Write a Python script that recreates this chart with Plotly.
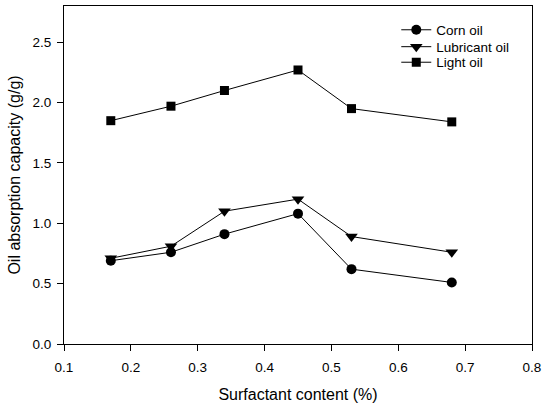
import plotly.graph_objects as go

surfactant = [0.17, 0.26, 0.34, 0.45, 0.53, 0.68]
corn_oil = [0.69, 0.76, 0.91, 1.08, 0.62, 0.51]
lubricant_oil = [0.71, 0.81, 1.10, 1.20, 0.89, 0.76]
light_oil = [1.85, 1.97, 2.10, 2.27, 1.95, 1.84]

# name, values, marker symbol, marker size, legend id, legend row position
series = [
    ("Corn oil", corn_oil, "circle", 10, "legend", 0.929),
    ("Lubricant oil", lubricant_oil, "triangle-down", 11, "legend2", 0.879),
    ("Light oil", light_oil, "square", 9, "legend3", 0.833),
]

fig = go.Figure()
legend_layout = {}
for name, vals, sym, size, leg, ypos in series:
    fig.add_trace(go.Scatter(
        x=surfactant, y=vals, name=name, mode="lines+markers",
        line=dict(color="black", width=1),
        marker=dict(symbol=sym, size=size, color="black"),
        legend=leg,
    ))
    legend_layout[leg] = dict(
        x=0.71, y=ypos, xanchor="left", yanchor="middle",
        bgcolor="rgba(0,0,0,0)", font=dict(size=13.5, color="black"),
        itemwidth=30,
    )

axis_common = dict(
    showline=True, linecolor="black", linewidth=1, mirror=True,
    ticks="outside", ticklen=6, tickcolor="black", showgrid=False,
    zeroline=False, tickfont=dict(size=13.5, color="black"),
)

fig.update_layout(
    width=546, height=407,
    margin=dict(l=64, r=11, t=5, b=63),
    plot_bgcolor="white", paper_bgcolor="white",
    font=dict(family="Liberation Sans, Arial, sans-serif", color="black"),
    xaxis=dict(range=[0.1, 0.8], dtick=0.1, tickformat=".1f", ticklabelstandoff=5,
               title=dict(text="Surfactant content (%)", font=dict(size=16), standoff=14),
               **axis_common),
    yaxis=dict(range=[0, 2.8], tickvals=[0, 0.5, 1.0, 1.5, 2.0, 2.5], tickformat=".1f",
               ticklabelstandoff=3,
               title=dict(text="Oil absorption capacity (g/g)", font=dict(size=16), standoff=7),
               **axis_common),
    showlegend=True,
    **legend_layout,
)

fig.write_html("out.html")
